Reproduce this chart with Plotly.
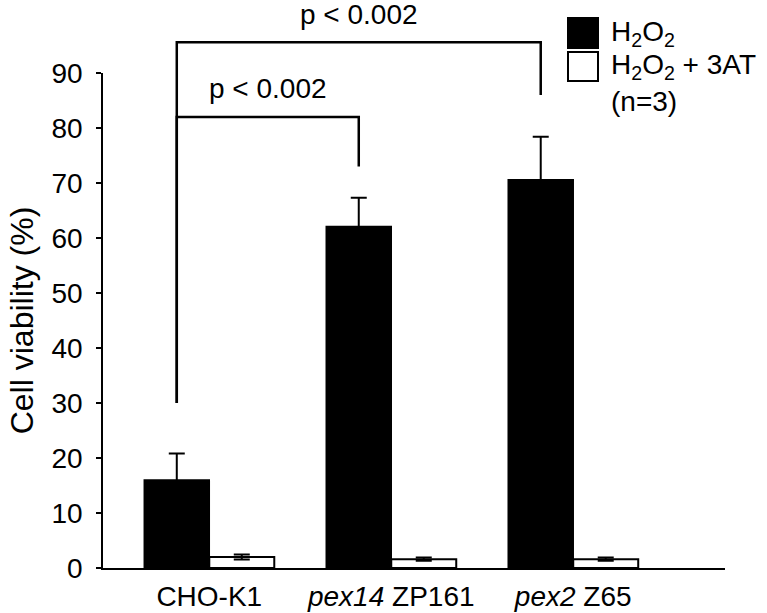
import plotly.graph_objects as go

# ---- data ----
categories = ["CHO-K1", "<i>pex14</i> ZP161", "<i>pex2</i> Z65"]
series_names = ["H<sub>2</sub>O<sub>2</sub>", "H<sub>2</sub>O<sub>2</sub> + 3AT"]
h2o2 = [16.0, 62.1, 70.6]
h2o2_err = [4.8, 5.2, 7.8]
h2o2_3at = [2.0, 1.6, 1.6]
h2o2_3at_err = [0.45, 0.3, 0.3]
y_ticks = [0, 10, 20, 30, 40, 50, 60, 70, 80, 90]
n_label = "(n=3)"
p_labels = ["p < 0.002", "p < 0.002"]
# brackets: (from category, to category, bracket height, left drop, right drop, label height)
brackets = [
    (0, 1, 82.0, 30.0, 73.0, 87.2),
    (0, 2, 95.6, 30.0, 86.0, 100.6),
]

# ---- layout geometry (pixels) ----
W, H = 767, 613
L, R, T, B = 103, 725, 73, 568
FONT = "Arial, Liberation Sans, sans-serif"
FS = 28

x_idx = list(range(len(categories)))
bar_w = 65 / 182.0
xr = [-0.584, 2.834]
yr = [0, 90]


def px_x(p):
    return (p - L) / (R - L)


def px_y(p):
    return (B - p) / (B - T)


fig = go.Figure()
fig.add_trace(go.Bar(
    x=x_idx, y=h2o2, name=series_names[0], offsetgroup="a",
    marker=dict(color="black", line=dict(color="black", width=1.5)),
    error_y=dict(type="data", array=h2o2_err, visible=True, color="black",
                 thickness=2, width=8),
))
fig.add_trace(go.Bar(
    x=x_idx, y=h2o2_3at, name=series_names[1], offsetgroup="b",
    marker=dict(color="white", line=dict(color="black", width=2)),
    error_y=dict(type="data", array=h2o2_3at_err, visible=True, color="black",
                 thickness=2, width=8),
))

shapes = []
annotations = []
for (i0, i1, h, d0, d1, lh), lab in zip(brackets, p_labels):
    xa = x_idx[i0] - bar_w / 2
    xb = x_idx[i1] - bar_w / 2
    path = (f"M {xa},{d0/yr[1]} L {xa},{h/yr[1]} L {xb},{h/yr[1]} L {xb},{d1/yr[1]}")
    shapes.append(dict(type="path", xref="x", yref="paper", path=path,
                       line=dict(color="black", width=2.5)))
    annotations.append(dict(x=(xa + xb) / 2, y=lh / yr[1], xref="x", yref="paper",
                            text=lab, showarrow=False, xanchor="center", yanchor="middle",
                            font=dict(family=FONT, size=FS, color="black")))

# legend (drawn manually to match large square keys)
shapes.append(dict(type="rect", xref="paper", yref="paper",
                   x0=px_x(568), x1=px_x(598), y0=px_y(48), y1=px_y(18),
                   fillcolor="black", line=dict(color="black", width=2)))
shapes.append(dict(type="rect", xref="paper", yref="paper",
                   x0=px_x(568), x1=px_x(598), y0=px_y(81), y1=px_y(52),
                   fillcolor="white", line=dict(color="black", width=2)))
for name, yc in zip(series_names, [34, 67]):
    annotations.append(dict(x=px_x(609), y=px_y(yc), xref="paper", yref="paper",
                            text=name, showarrow=False, xanchor="left", yanchor="middle",
                            font=dict(family=FONT, size=FS, color="black")))
annotations.append(dict(x=px_x(609), y=px_y(101), xref="paper", yref="paper",
                        text=n_label, showarrow=False, xanchor="left", yanchor="middle",
                        font=dict(family=FONT, size=FS, color="black")))

fig.update_layout(
    width=W, height=H,
    margin=dict(l=L, r=W - R, t=T, b=H - B, pad=0),
    paper_bgcolor="white", plot_bgcolor="white",
    barmode="group", bargap=1 - 2 * bar_w, bargroupgap=0,
    showlegend=False,
    font=dict(family=FONT, size=FS, color="black"),
    shapes=shapes, annotations=annotations,
    xaxis=dict(range=xr, tickvals=x_idx, ticktext=categories, showgrid=False,
               zeroline=False, showline=True, linecolor="black", linewidth=2,
               ticks="", automargin=False, ticklabelstandoff=2,
               tickfont=dict(family=FONT, size=FS)),
    yaxis=dict(range=yr, tickvals=y_ticks, showgrid=False, zeroline=False,
               showline=True, linecolor="black", linewidth=1.5, ticks="outside",
               ticklen=5, tickwidth=1.5, tickcolor="black", automargin=False,
               ticklabelstandoff=8,
               tickfont=dict(family=FONT, size=FS),
               title=dict(text="Cell viability (%)", standoff=8,
                          font=dict(family=FONT, size=32))),
)

# remove the page's default 8px body margin so the figure sits at the window corner
fig.write_html("out.html", config={"displayModeBar": False},
               post_script="document.body.style.margin='0';")
